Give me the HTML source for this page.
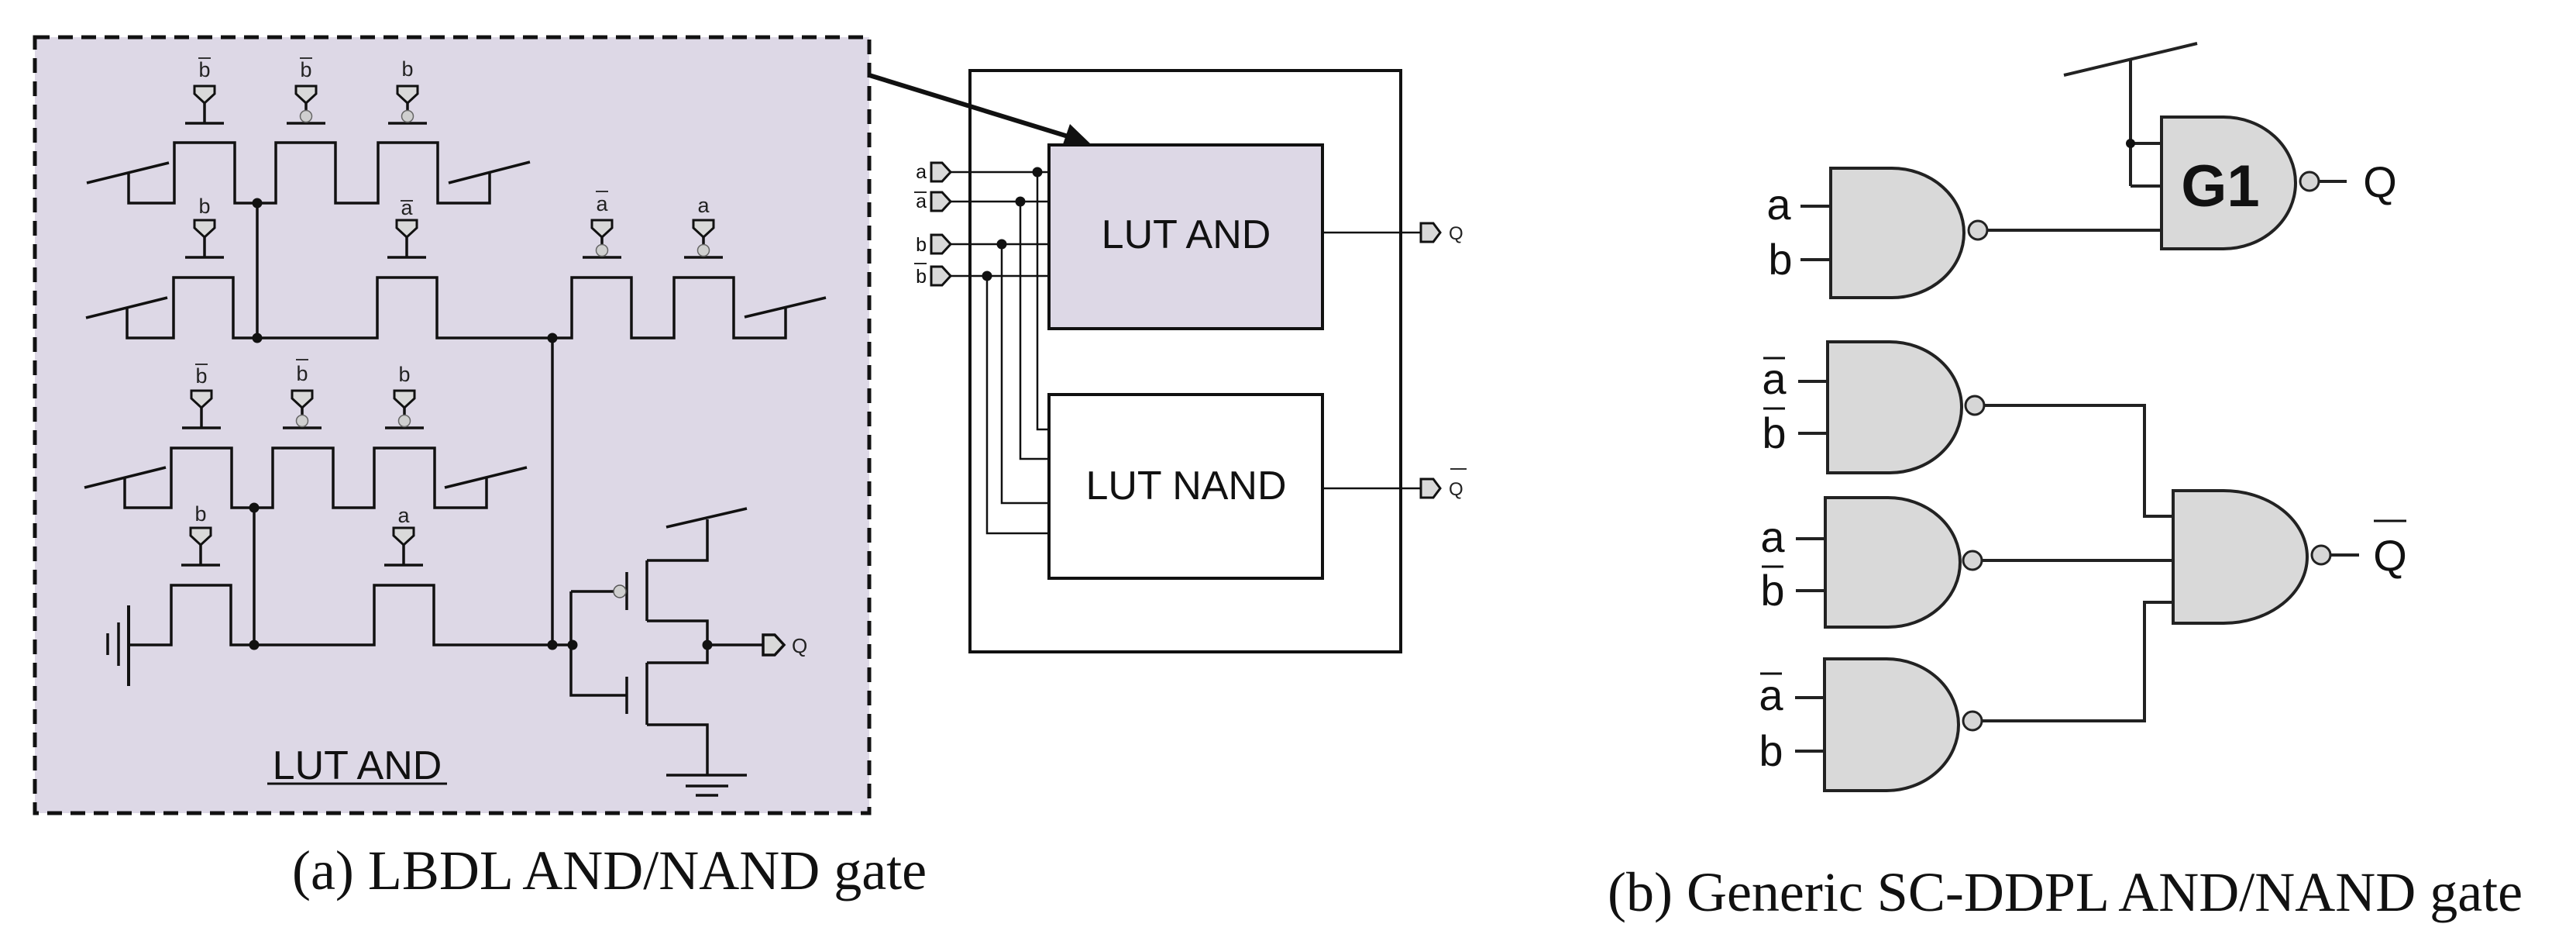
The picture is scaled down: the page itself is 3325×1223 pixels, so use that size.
<!DOCTYPE html>
<html><head><meta charset="utf-8"><style>
html,body{margin:0;padding:0;background:#fff}
svg{display:block}
</style></head><body>
<svg width="3325" height="1223" viewBox="0 0 3325 1223" xmlns="http://www.w3.org/2000/svg">
<defs>
<g id="gt" stroke="#111" stroke-width="3.5" fill="none">
<line x1="-25" y1="0" x2="25" y2="0"/>
<line x1="0" y1="0" x2="0" y2="-26"/>
<path d="M-13,-48 H13 V-38 L0,-26 L-13,-38Z" fill="#d9d9d9" stroke-width="3"/>
</g>
<g id="gc">
<use href="#gt"/>
<circle cx="0" cy="-9" r="7.5" fill="#cfcfcf" stroke="#666" stroke-width="1.5"/>
</g>
</defs>

<rect x="45" y="48" width="1077" height="1001" fill="#ddd8e6" stroke="#111" stroke-width="5" stroke-dasharray="19,11"/>

<g stroke="#111" stroke-width="3.5" fill="none">
<path d="M166,223 V262 H225 V184 H303 V262 H356 V184 H433 V262 H488 V184 H565 V262 H632 V223"/>
<line x1="112" y1="236" x2="218" y2="210"/><line x1="579" y1="236" x2="684" y2="209"/>
<path d="M164,397 V436 H224 V358 H301 V436 H487 V358 H564 V436 H738 V358 H815 V436 H870 V358 H947 V436 H1014 V396"/>
<line x1="111" y1="410" x2="216" y2="384"/><line x1="961" y1="409" x2="1066" y2="384"/>
<path d="M161,615 V655 H221 V578 H299 V655 H352 V578 H430 V655 H483 V578 H561 V655 H628 V616"/>
<line x1="109" y1="629" x2="214" y2="603"/><line x1="574" y1="629" x2="680" y2="603"/>
<path d="M166,832 H221 V755 H298 V832 H483 V755 H560 V832 H739"/>
<line x1="332" y1="262" x2="332" y2="436"/>
<line x1="328" y1="655" x2="328" y2="832"/>
<line x1="713" y1="436" x2="713" y2="832"/>
<line x1="166" y1="781" x2="166" y2="885" stroke-width="4"/>
<line x1="153" y1="803" x2="153" y2="859"/>
<line x1="139" y1="817" x2="139" y2="845"/>
<path d="M737,763 V897 H809"/>
<path d="M737,763 H792"/>
<line x1="809" y1="738" x2="809" y2="787"/>
<line x1="809" y1="873" x2="809" y2="921"/>
<line x1="835" y1="723" x2="835" y2="801"/>
<line x1="835" y1="855" x2="835" y2="935"/>
<path d="M835,723 H913 V670"/>
<line x1="860" y1="680" x2="964" y2="656"/>
<path d="M835,801 H913 V855 H835"/>
<path d="M835,935 H913 V1000"/>
<line x1="860" y1="1000" x2="964" y2="1000"/>
<line x1="885" y1="1014" x2="940" y2="1014"/>
<line x1="898" y1="1026" x2="927" y2="1026"/>
<line x1="913" y1="832" x2="985" y2="832"/>
<path d="M985,819 H1000 L1012,832 L1000,845 H985Z" fill="#d9d9d9"/>
</g>
<circle cx="800" cy="763" r="8" fill="#cfcfcf" stroke="#555" stroke-width="1.5"/>
<g fill="#111">
<circle cx="332" cy="262" r="6.5"/><circle cx="332" cy="436" r="6.5"/>
<circle cx="713" cy="436" r="6.5"/><circle cx="328" cy="655" r="6.5"/>
<circle cx="328" cy="832" r="6.5"/><circle cx="713" cy="832" r="6.5"/>
<circle cx="739" cy="832" r="6.5"/><circle cx="913" cy="832" r="6.5"/>
</g>

<use href="#gt" x="264" y="159"/><use href="#gc" x="395" y="159"/><use href="#gc" x="526" y="159"/>
<use href="#gt" x="264" y="332"/><use href="#gt" x="525" y="332"/><use href="#gc" x="777" y="332"/><use href="#gc" x="908" y="332"/>
<use href="#gt" x="260" y="552"/><use href="#gc" x="390" y="552"/><use href="#gc" x="522" y="552"/>
<use href="#gt" x="259" y="729"/><use href="#gt" x="521" y="729"/>

<g font-family="Liberation Sans, sans-serif" font-size="27" fill="#222" text-anchor="middle">
<text x="264" y="99">b</text><text x="395" y="99">b</text><text x="526" y="98">b</text>
<text x="264" y="275">b</text><text x="525" y="277">a</text><text x="777" y="272">a</text><text x="908" y="274">a</text>
<text x="260" y="494">b</text><text x="390" y="491">b</text><text x="522" y="492">b</text>
<text x="259" y="672">b</text><text x="521" y="674">a</text>
<text x="1022" y="842" text-anchor="start" font-size="26">Q</text>
</g>
<g stroke="#222" stroke-width="1.8">
<line x1="256" y1="75" x2="272" y2="75"/><line x1="387" y1="75" x2="403" y2="75"/>
<line x1="517" y1="259" x2="533" y2="259"/><line x1="769" y1="247" x2="785" y2="247"/>
<line x1="252" y1="470" x2="268" y2="470"/><line x1="382" y1="464" x2="398" y2="464"/>
</g>
<text x="461" y="1005" font-family="Liberation Sans, sans-serif" font-size="52" text-anchor="middle" fill="#111">LUT AND</text>
<line x1="345" y1="1011" x2="577" y2="1011" stroke="#111" stroke-width="3"/>

<line x1="1122" y1="97" x2="1385" y2="178" stroke="#111" stroke-width="6"/>
<polygon points="1408,186 1372,186 1381,160" fill="#111"/>

<g stroke="#111" fill="none">
<rect x="1252" y="91" width="556" height="750" stroke-width="4"/>
<rect x="1354" y="187" width="353" height="237" fill="#ddd8e6" stroke-width="4"/>
<rect x="1354" y="509" width="353" height="237" fill="#fff" stroke-width="4"/>
<g stroke-width="2.5">
<line x1="1227" y1="222" x2="1354" y2="222"/>
<line x1="1227" y1="260" x2="1354" y2="260"/>
<line x1="1227" y1="315" x2="1354" y2="315"/>
<line x1="1227" y1="356" x2="1354" y2="356"/>
<path d="M1339,222 V554 H1354"/>
<path d="M1317,260 V592 H1354"/>
<path d="M1293,315 V649 H1354"/>
<path d="M1274,356 V688 H1354"/>
<line x1="1707" y1="300" x2="1833" y2="300"/>
<line x1="1707" y1="630" x2="1833" y2="630"/>
</g>
<g fill="#d9d9d9" stroke-width="3">
<path d="M1202,210 H1216 L1227,222 L1216,234 H1202Z"/>
<path d="M1202,248 H1216 L1227,260 L1216,272 H1202Z"/>
<path d="M1202,303 H1216 L1227,315 L1216,327 H1202Z"/>
<path d="M1202,344 H1216 L1227,356 L1216,368 H1202Z"/>
<path d="M1834,288 H1850 L1859,300 L1850,312 H1834Z"/>
<path d="M1834,618 H1850 L1859,630 L1850,642 H1834Z"/>
</g>
</g>
<g fill="#111">
<circle cx="1339" cy="222" r="6.5"/><circle cx="1317" cy="260" r="6.5"/>
<circle cx="1293" cy="315" r="6.5"/><circle cx="1274" cy="356" r="6.5"/>
</g>
<g font-family="Liberation Sans, sans-serif" fill="#111" font-size="25" text-anchor="end">
<text x="1196" y="230">a</text><text x="1196" y="268">a</text>
<text x="1196" y="324">b</text><text x="1196" y="365">b</text>
</g>
<g stroke="#111" stroke-width="1.8">
<line x1="1180" y1="248" x2="1196" y2="248"/><line x1="1180" y1="340" x2="1196" y2="340"/>
<line x1="1872" y1="605" x2="1893" y2="605"/>
</g>
<g font-family="Liberation Sans, sans-serif" fill="#222" font-size="24">
<text x="1870" y="309">Q</text><text x="1870" y="639">Q</text>
</g>
<g font-family="Liberation Sans, sans-serif" fill="#111" font-size="52" text-anchor="middle">
<text x="1531" y="320">LUT AND</text>
<text x="1531" y="644">LUT NAND</text>
</g>

<g stroke="#222" stroke-width="4" fill="none">
<line x1="2664" y1="97" x2="2836" y2="56"/>
<line x1="2750" y1="77" x2="2750" y2="240"/>
<path d="M2750,185 H2790 M2750,240 H2790"/>
<line x1="2566" y1="297" x2="2790" y2="297"/>
<line x1="2994" y1="234" x2="3029" y2="234"/>
<path d="M2562,523 H2768 V666 H2805"/>
<line x1="2559" y1="723" x2="2805" y2="723"/>
<path d="M2559,930 H2768 V777 H2805"/>
<line x1="3009" y1="716" x2="3045" y2="716"/>
<line x1="2324" y1="266" x2="2363" y2="266"/><line x1="2324" y1="335" x2="2363" y2="335"/>
<line x1="2321" y1="492" x2="2359" y2="492"/><line x1="2321" y1="559" x2="2359" y2="559"/>
<line x1="2318" y1="695" x2="2356" y2="695"/><line x1="2318" y1="762" x2="2356" y2="762"/>
<line x1="2317" y1="900" x2="2355" y2="900"/><line x1="2317" y1="969" x2="2355" y2="969"/>
<g fill="#d9d9d9">
<path d="M2790,151 H2870 A93,85 0 0 1 2870,321 H2790Z"/>
<path d="M2363,217 H2442 A93,83.5 0 0 1 2442,384 H2363Z"/>
<path d="M2359,441 H2439 A93,84.5 0 0 1 2439,610 H2359Z"/>
<path d="M2356,642 H2437 A93,83.5 0 0 1 2437,809 H2356Z"/>
<path d="M2355,850 H2435 A93,85 0 0 1 2435,1020 H2355Z"/>
<path d="M2805,633 H2870 A108,85.5 0 0 1 2870,804 H2805Z"/>
</g>
<g fill="#d6d6d6" stroke-width="3">
<circle cx="2981" cy="234" r="12"/>
<circle cx="2553" cy="297" r="12"/>
<circle cx="2549" cy="523" r="12"/>
<circle cx="2546" cy="723" r="12"/>
<circle cx="2546" cy="930" r="12"/>
<circle cx="2996" cy="716" r="12"/>
</g>
</g>
<circle cx="2750" cy="185" r="6" fill="#111"/>
<text x="2866" y="266" font-family="Liberation Sans, sans-serif" font-weight="bold" font-size="76" text-anchor="middle" fill="#111">G1</text>
<g font-family="Liberation Sans, sans-serif" font-size="56" fill="#111" text-anchor="middle">
<text x="2296" y="283">a</text><text x="2298" y="354">b</text>
<text x="2290" y="508">a</text><text x="2290" y="578">b</text>
<text x="2288" y="712">a</text><text x="2288" y="781">b</text>
<text x="2286" y="916">a</text><text x="2286" y="988">b</text>
<text x="3072" y="254">Q</text><text x="3085" y="736">Q</text>
</g>
<g stroke="#111" stroke-width="3">
<line x1="2276" y1="462" x2="2304" y2="462"/><line x1="2276" y1="527" x2="2304" y2="527"/>
<line x1="2274" y1="731" x2="2302" y2="731"/>
<line x1="2272" y1="869" x2="2300" y2="869"/>
<line x1="3064" y1="672" x2="3106" y2="672"/>
</g>

<g font-family="Liberation Serif, serif" font-size="72" fill="#111">
<text x="377" y="1147">(a) LBDL AND/NAND gate</text>
<text x="2075" y="1175">(b) Generic SC-DDPL AND/NAND gate</text>
</g>
</svg>
</body></html>
